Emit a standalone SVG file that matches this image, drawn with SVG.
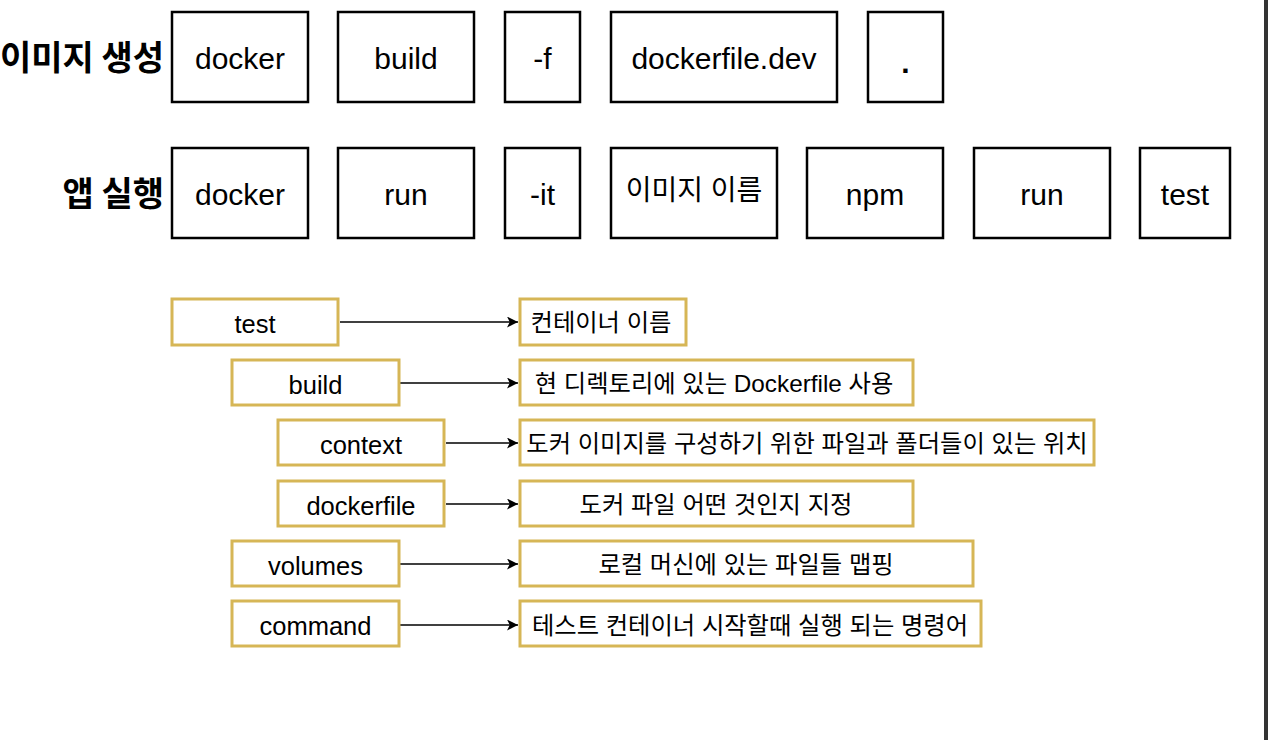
<svg xmlns="http://www.w3.org/2000/svg" width="1268" height="740" viewBox="0 0 1268 740">
<style>
.bk{fill:#fff;stroke:#000;stroke-width:2.5}
.gd{fill:#fff;stroke:#d6b656;stroke-width:3}
.t1{font-family:"Liberation Sans","Noto Sans CJK KR",sans-serif;font-size:30px;fill:#000;text-anchor:middle;dominant-baseline:central}
.t2{font-family:"Liberation Sans","Noto Sans CJK KR",sans-serif;font-size:25.5px;fill:#000;text-anchor:middle;dominant-baseline:central}
.tk{font-family:"Liberation Sans","Noto Sans CJK KR",sans-serif;font-size:24.3px;fill:#000;text-anchor:middle;dominant-baseline:central}
.lb{font-family:"Noto Sans CJK KR",sans-serif;font-size:34px;font-weight:bold;fill:#000;text-anchor:end;dominant-baseline:central}
.cn{stroke:#000;stroke-width:1.6;fill:none}
</style>
<defs>
<marker id="ar" viewBox="0 0 10 10" refX="10" refY="5" markerWidth="12" markerHeight="11" markerUnits="userSpaceOnUse" orient="auto">
<path d="M0,0 L10,5 L0,10 L2.5,5 Z" fill="#000"/>
</marker>
</defs>
<rect x="0" y="0" width="1268" height="740" fill="#fff"/>
<rect x="1264" y="0" width="4" height="740" fill="#333"/>
<g id="label-build"><text class="lb" x="164" y="55">이미지 생성</text></g>
<g id="label-run"><text class="lb" x="164" y="191">앱 실행</text></g>
<g id="r1-docker"><rect class="bk" x="172" y="12" width="136" height="90"/><text class="t1" x="240" y="58">docker</text></g>
<g id="r1-build"><rect class="bk" x="338" y="12" width="136" height="90"/><text class="t1" x="406" y="58">build</text></g>
<g id="r1-f"><rect class="bk" x="505" y="12" width="75" height="90"/><text class="t1" x="542.5" y="58">-f</text></g>
<g id="r1-dockerfile"><rect class="bk" x="611" y="12" width="226" height="90"/><text class="t1" x="724" y="58">dockerfile.dev</text></g>
<g id="r1-dot"><rect class="bk" x="868" y="12" width="75" height="90"/><text class="t1" x="905.5" y="62" style="font-weight:bold">.</text></g>
<g id="r2-docker"><rect class="bk" x="172" y="148" width="136" height="90"/><text class="t1" x="240" y="194">docker</text></g>
<g id="r2-run"><rect class="bk" x="338" y="148" width="136" height="90"/><text class="t1" x="406" y="194">run</text></g>
<g id="r2-it"><rect class="bk" x="505" y="148" width="75" height="90"/><text class="t1" x="542.5" y="194">-it</text></g>
<g id="r2-image"><rect class="bk" x="611" y="148" width="166" height="90"/><text class="t1" x="694" y="190" style="font-size:28px">이미지 이름</text></g>
<g id="r2-npm"><rect class="bk" x="807" y="148" width="136" height="90"/><text class="t1" x="875" y="194">npm</text></g>
<g id="r2-run2"><rect class="bk" x="974" y="148" width="136" height="90"/><text class="t1" x="1042" y="194">run</text></g>
<g id="r2-test"><rect class="bk" x="1140" y="148" width="90" height="90"/><text class="t1" x="1185" y="194">test</text></g>

<g id="connectors">
<line class="cn" x1="340" y1="322" x2="518" y2="322" marker-end="url(#ar)"/>
<line class="cn" x1="400" y1="383" x2="518" y2="383" marker-end="url(#ar)"/>
<line class="cn" x1="446" y1="443" x2="518" y2="443" marker-end="url(#ar)"/>
<line class="cn" x1="446" y1="504" x2="518" y2="504" marker-end="url(#ar)"/>
<line class="cn" x1="400" y1="564" x2="518" y2="564" marker-end="url(#ar)"/>
<line class="cn" x1="400" y1="625" x2="518" y2="625" marker-end="url(#ar)"/>
</g>

<g id="k-test"><rect class="gd" x="172" y="299" width="166" height="46"/><text class="t2" x="255" y="324">test</text></g>
<g id="v-test"><rect class="gd" x="520" y="299" width="166" height="46"/><text class="tk" x="601" y="322">컨테이너 이름</text></g>
<g id="k-build"><rect class="gd" x="232" y="360" width="167" height="45"/><text class="t2" x="315.5" y="385">build</text></g>
<g id="v-build"><rect class="gd" x="520" y="360" width="393" height="45"/><text class="tk" x="714" y="383">현 디렉토리에 있는 Dockerfile 사용</text></g>
<g id="k-context"><rect class="gd" x="278" y="420" width="166" height="45"/><text class="t2" x="361" y="445">context</text></g>
<g id="v-context"><rect class="gd" x="520" y="420" width="574" height="45"/><text class="tk" x="807" y="443">도커 이미지를 구성하기 위한 파일과 폴더들이 있는 위치</text></g>
<g id="k-dockerfile"><rect class="gd" x="278" y="481" width="166" height="45"/><text class="t2" x="361" y="506">dockerfile</text></g>
<g id="v-dockerfile"><rect class="gd" x="520" y="481" width="393" height="45"/><text class="tk" x="716" y="504">도커 파일 어떤 것인지 지정</text></g>
<g id="k-volumes"><rect class="gd" x="232" y="541" width="167" height="45"/><text class="t2" x="315.5" y="566">volumes</text></g>
<g id="v-volumes"><rect class="gd" x="520" y="541" width="453" height="45"/><text class="tk" x="746" y="564">로컬 머신에 있는 파일들 맵핑</text></g>
<g id="k-command"><rect class="gd" x="232" y="601" width="167" height="45"/><text class="t2" x="315.5" y="626">command</text></g>
<g id="v-command"><rect class="gd" x="520" y="601" width="461" height="45"/><text class="tk" x="750" y="625">테스트 컨테이너 시작할때 실행 되는 명령어</text></g>
</svg>
